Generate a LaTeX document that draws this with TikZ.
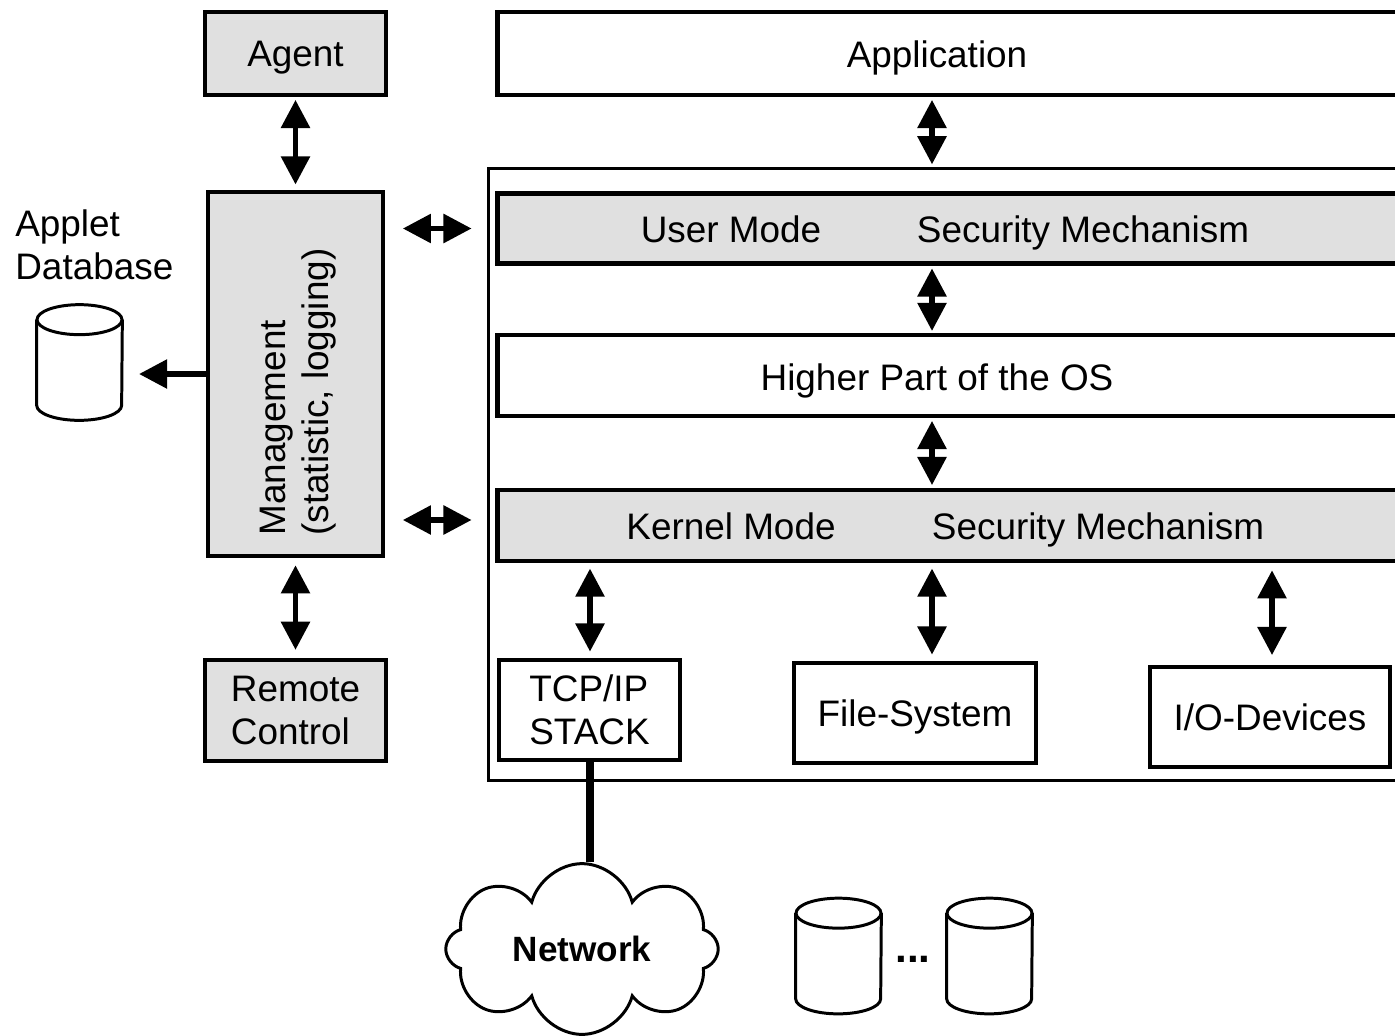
\documentclass[tikz,border=0pt]{standalone}
\usepackage{fontspec}
\setmainfont{Liberation Sans}
\usetikzlibrary{arrows.meta,shapes.symbols}
\definecolor{boxgray}{RGB}{224,224,224}
\begin{document}
\begin{tikzpicture}[
        x=0.02cm, y=-0.02cm,
        font=\fontsize{21}{24.5}\selectfont,
        box/.style={draw, rectangle, line width=2.6pt, inner sep=0pt, align=left},% plain box
        greybox/.style={box, fill=boxgray},% grey box
        layer/.style={minimum width=18.5cm},% layer bar inside the OS
        disk/.style={rectangle, inner sep=0pt, minimum width=1.7cm, minimum height=2.3cm},% place of a database
        diskline/.style={line width=1.7pt},% outline of a database
        link/.style={line width=3.1pt, {Triangle[length=16pt,width=16pt]}-{Triangle[length=16pt,width=16pt]}},% two way arrow
        feed/.style={line width=3.1pt, -{Triangle[length=16pt,width=16pt]}},% one way arrow
    ]
        \useasboundingbox (0,0) rectangle (1395,1035);
        \clip (0,0) rectangle (1395,1035);

        % left column
        \node [greybox, minimum width=3.62cm, minimum height=1.66cm, text depth=0pt] (agent) at (295.5,53.5) {Agent};
        \node [greybox, minimum width=3.5cm, minimum height=7.28cm] (management) at (295.5,374) {};
        \node [rotate=90, align=left] (managementText) at (298,392) {Management\\(statistic, logging)};
        \node [greybox, minimum width=3.62cm, minimum height=2.02cm] (remoteControl) at (295.5,710.5) {Remote\\Control};
        \node [disk] (appletDB) at (79.5,362.5) {};
        \node [anchor=north west, inner sep=0pt, align=left] (appletLabel) at (15,209) {Applet\\Database};

        % application and OS
        \node [box, layer, minimum height=1.66cm] (application) at (960,53.5) {};
        \node [anchor=base] (applicationText) at (937,67) {Application};
        \node [draw, line width=1.8pt, inner sep=0pt, minimum width=19cm, minimum height=12.24cm] (osFrame) at (963,474.5) {};
        \node [greybox, layer, minimum height=1.4cm] (userMode) at (960,228.5) {};
        \node [anchor=base] (userText) at (731,242) {User Mode};
        \node [anchor=base] (userSecurity) at (1083,242) {Security Mechanism};
        \node [box, layer, minimum height=1.62cm] (higherOS) at (960,375.5) {};
        \node [anchor=base] (higherText) at (937,390) {Higher Part of the OS};
        \node [greybox, layer, minimum height=1.42cm] (kernelMode) at (960,525.5) {};
        \node [anchor=base] (kernelText) at (731,539) {Kernel Mode};
        \node [anchor=base] (kernelSecurity) at (1098,539) {Security Mechanism};
        \node [box, minimum width=3.62cm, minimum height=2cm] (tcpStack) at (589.5,710) {TCP/IP\\STACK};
        \node [box, minimum width=4.84cm, minimum height=2cm, text depth=0pt] (fileSystem) at (915,713) {File-System};
        \node [box, minimum width=4.8cm, minimum height=2cm] (ioDevices) at (1270,717) {I/O-Devices};

        % bottom
        \node [cloud, draw, line width=1.7pt, cloud puffs=8, aspect=1.6, inner sep=0pt, minimum width=5.45cm, minimum height=3.4cm, font=\fontsize{20}{24}\selectfont\bfseries] (network) at (582,949) {Network};
        \node [disk] (diskA) at (838.5,956) {};
        \node [disk] (diskB) at (989.5,956) {};
        \node [anchor=base, font=\fontsize{24}{28}\selectfont\bfseries] (dots) at (913,962) {...};

        % databases
        \foreach \d in {appletDB, diskA, diskB} {
            \draw [diskline] ([yshift=-0.3cm]\d.north west) -- ([yshift=0.3cm]\d.south west)
                arc [start angle=180, end angle=360, x radius=0.85cm, y radius=0.3cm]
                -- ([yshift=-0.3cm]\d.north east);
            \draw [diskline] ([yshift=-0.3cm]\d.north) ellipse [x radius=0.85cm, y radius=0.3cm];
        }

        \coordinate (midCol) at (932,0);
        \coordinate (tcpCol) at (590,0);
        \coordinate (ioCol) at (1272,0);

        \draw [link, shorten <=1.5pt, shorten >=3pt] (agent) -- (management);
        \draw [link, shorten <=4pt, shorten >=4.5pt] (management) -- (remoteControl);
        \draw [feed, shorten >=9.5pt] (management.west) -- (management.west -| appletDB.east);
        \draw [link, shorten <=10pt, shorten >=8.5pt] (management.east |- userMode.west) -- (osFrame.west |- userMode.west);
        \draw [link, shorten <=10pt, shorten >=8.5pt] (management.east |- 0,520) -- (osFrame.west |- 0,520);
        \draw [link, shorten <=1.5pt, shorten >=1.5pt] (application.south -| midCol) -- (osFrame.north -| midCol);
        \draw [link, shorten <=1.5pt, shorten >=1pt] (userMode.south -| midCol) -- (higherOS.north -| midCol);
        \draw [link, shorten <=1.5pt, shorten >=1.5pt] (higherOS.south -| midCol) -- (kernelMode.north -| midCol);
        \draw [link, shorten <=3pt, shorten >=3.5pt] (kernelMode.south -| tcpCol) -- (tcpStack.north -| tcpCol);
        \draw [link, shorten <=3pt, shorten >=3.5pt] (kernelMode.south -| midCol) -- (fileSystem.north -| midCol);
        \draw [link, shorten <=4pt, shorten >=5.5pt] (kernelMode.south -| ioCol) -- (ioDevices.north -| ioCol);
        \draw [line width=4pt] (tcpStack.south -| tcpCol) -- (network.north -| tcpCol);
    \end{tikzpicture}
\end{document}
